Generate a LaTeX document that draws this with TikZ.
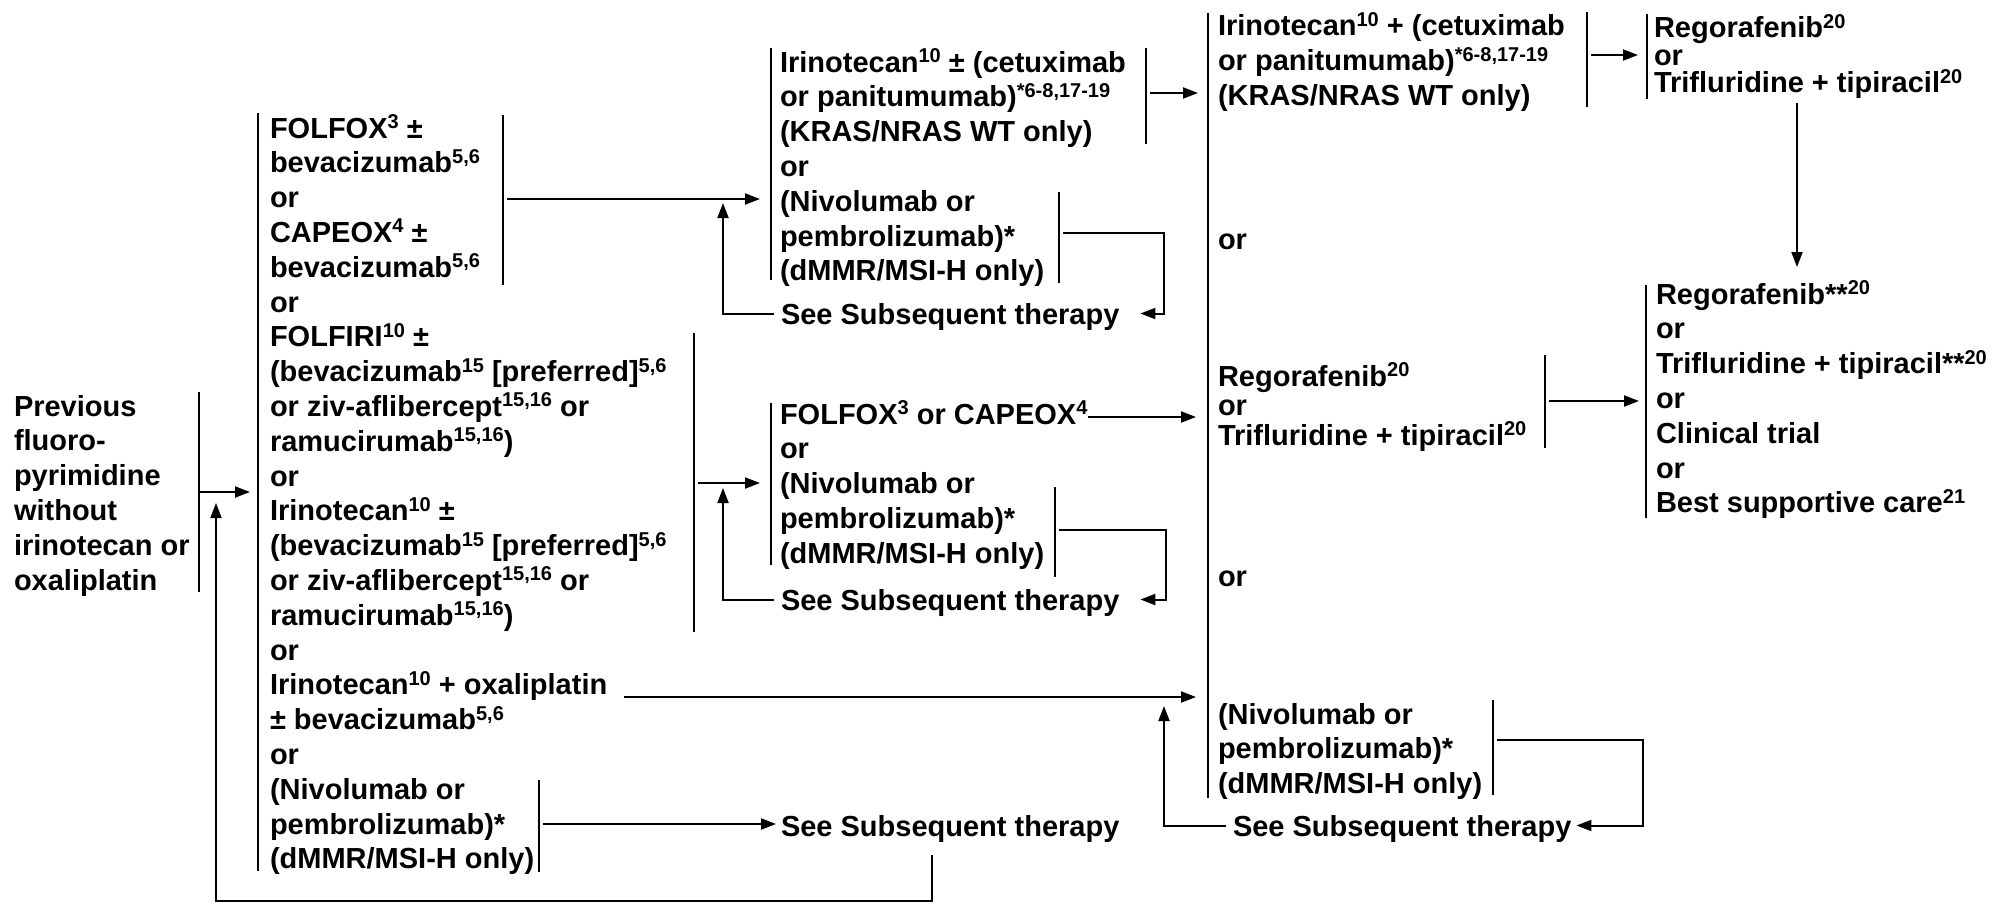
\documentclass[tikz,border=0pt]{standalone}
\usepackage{fontspec}
\setmainfont{Liberation Sans}
\usepackage{tikz}
\usetikzlibrary{arrows.meta,positioning}

\newcommand{\sps}[1]{\raisebox{4.8pt}{\fontsize{10}{12}\selectfont #1}}
\newcommand{\Top}{\rule{0pt}{13.5pt}}
\newcommand{\tightfont}[1]{\fontsize{14.5}{#1}\selectfont\bfseries\lineskiplimit=-100pt\relax}

\begin{document}
\begin{tikzpicture}[x=0.5pt,y=-0.5pt,line width=1pt,
        >={Triangle[length=7.5pt,width=5.5pt]},
        lst/.style={anchor=north west,inner sep=0pt,align=left,
            font=\fontsize{14.5}{17.4}\selectfont\bfseries},
        tight/.style={lst,font=\tightfont{#1}}]
            \useasboundingbox (0,0) rectangle (2013,904);
            % Starting point
            \node[lst] (prev) at (13,388) {\Top Previous\\fluoro-\\pyrimidine\\without\\irinotecan or\\oxaliplatin};
            % First list of regimens
            \node[lst] (first) at (269,110) {\Top FOLFOX\sps{3} ±\\bevacizumab\sps{5,6}\\or\\CAPEOX\sps{4} ±\\bevacizumab\sps{5,6}\\or\\
                FOLFIRI\sps{10} ±\\(bevacizumab\sps{15} [preferred]\sps{5,6}\\or ziv-aflibercept\sps{15,16} or\\ramucirumab\sps{15,16})\\or\\
                Irinotecan\sps{10} ±\\(bevacizumab\sps{15} [preferred]\sps{5,6}\\or ziv-aflibercept\sps{15,16} or\\ramucirumab\sps{15,16})\\or\\
                Irinotecan\sps{10} + oxaliplatin\\± bevacizumab\sps{5,6}\\or\\(Nivolumab or\\pembrolizumab)*\\(dMMR/MSI-H only)};
            % Second column
            \node[lst] (upper) at (779,44) {\Top Irinotecan\sps{10} ± (cetuximab\\or panitumumab)\sps{*6-8,17-19}\\(KRAS/NRAS WT only)\\or\\(Nivolumab or\\pembrolizumab)*\\(dMMR/MSI-H only)};
            \node[lst] (seeA) at (780,296) {\Top See Subsequent therapy};
            \node[lst] (middle) at (779,396) {\Top FOLFOX\sps{3} or CAPEOX\sps{4}\\or\\(Nivolumab or\\pembrolizumab)*\\(dMMR/MSI-H only)};
            \node[lst] (seeB) at (780,582) {\Top See Subsequent therapy};
            \node[lst] (seeC) at (780,808) {\Top See Subsequent therapy};
            % Third column
            \node[lst] (cetux) at (1217,8) {\Top Irinotecan\sps{10} + (cetuximab\\or panitumumab)\sps{*6-8,17-19}\\(KRAS/NRAS WT only)};
            \node[lst] (orA) at (1217,221) {\Top or};
            \node[tight=14.75] (rego) at (1217,358) {\Top Regorafenib\sps{20}\\or\\Trifluridine + tipiracil\sps{20}};
            \node[lst] (orB) at (1217,558) {\Top or};
            \node[lst] (nivo) at (1217,696) {\Top (Nivolumab or\\pembrolizumab)*\\(dMMR/MSI-H only)};
            \node[lst] (seeD) at (1232,808) {\Top See Subsequent therapy};
            % Last column
            \node[tight=13.75] (regoA) at (1653,10) {\Top Regorafenib\sps{20}\\or\\Trifluridine + tipiracil\sps{20}};
            \node[lst] (regoB) at (1655,276) {\Top Regorafenib**\sps{20}\\or\\Trifluridine + tipiracil**\sps{20}\\or\\Clinical trial\\or\\Best supportive care\sps{21}};
            % Bars
            \draw (199,392) -- (199,592);   % previous
            \draw (258,113) -- (258,871);   % first list
            \draw (503,115) -- (503,285);   % FOLFOX/CAPEOX
            \draw (694,333) -- (694,632);   % FOLFIRI/irinotecan
            \draw (539,780) -- (539,872);   % nivolumab
            \draw (771,48) -- (771,280);    % upper list
            \draw (1146,48) -- (1146,144);
            \draw (1059,192) -- (1059,283);
            \draw (771,403) -- (771,565);   % middle list
            \draw (1055,487) -- (1055,577);
            \draw (1208,13) -- (1208,798);  % third column
            \draw (1587,12) -- (1587,107);
            \draw (1545,355) -- (1545,448);
            \draw (1493,700) -- (1493,795);
            \draw (1647,14) -- (1647,99);   % last column
            \draw (1646,285) -- (1646,518);
            % Connector ends
            \coordinate (prevOut) at (199,492);
            \coordinate (firstIn) at (250,492);
            \coordinate (firstBack) at (216,503);
            \coordinate (foxOut) at (507,199);
            \coordinate (upperIn) at (760,199);
            \coordinate (upperBack) at (723,203);
            \coordinate (iriOut) at (698,483);
            \coordinate (middleIn) at (760,483);
            \coordinate (middleBack) at (723,488);
            \coordinate (nivoOut) at (543,824);
            \coordinate (oxaOut) at (624,697);
            \coordinate (thirdIn) at (1196,697);
            \coordinate (thirdBack) at (1164,706);
            \coordinate (loopStart) at (932,855);
            \coordinate (loopCorner) at (216,901);
            \coordinate (cetuxOut) at (1150,93);
            \coordinate (cetuxIn) at (1198,93);
            \coordinate (nivoOutA) at (1063,233);
            \coordinate (turnA) at (1164,233);
            \coordinate (capeOut) at (1088,417);
            \coordinate (regoIn) at (1196,417);
            \coordinate (nivoOutB) at (1059,530);
            \coordinate (turnB) at (1166,530);
            \coordinate (thirdOut) at (1591,55);
            \coordinate (regoAIn) at (1638,55);
            \coordinate (regoAOut) at (1797,103);
            \coordinate (regoBIn) at (1797,267);
            \coordinate (regoOut) at (1549,401);
            \coordinate (regoBSide) at (1639,401);
            \coordinate (nivoOutC) at (1497,740);
            \coordinate (turnC) at (1643,740);
            % Arrows
            \draw[->] (prevOut) -- (firstIn);
            \draw[->] (foxOut) -- (upperIn);
            \draw[->] (iriOut) -- (middleIn);
            \draw[->] (oxaOut) -- (thirdIn);
            \draw[->] (nivoOut) -- ([xshift=-2pt]nivoOut -| seeC.west);
            \draw[->] (loopStart) |- (loopCorner) -- (firstBack);
            \draw[->] (cetuxOut) -- (cetuxIn);
            \draw[->] (nivoOutA) -- (turnA) |- ([xshift=10pt]seeA.east);
            \draw[->] ([xshift=-3pt]seeA.west) -| (upperBack);
            \draw[->] (capeOut) -- (regoIn);
            \draw[->] (nivoOutB) -- (turnB) |- ([xshift=10pt]seeB.east);
            \draw[->] ([xshift=-3pt]seeB.west) -| (middleBack);
            \draw[->] (thirdOut) -- (regoAIn);
            \draw[->] (regoAOut) -- (regoBIn);
            \draw[->] (regoOut) -- (regoBSide);
            \draw[->] (nivoOutC) -- (turnC) |- ([xshift=2pt]seeD.east);
            \draw[->] ([xshift=-3pt]seeD.west) -| (thirdBack);
        \end{tikzpicture}
\end{document}
